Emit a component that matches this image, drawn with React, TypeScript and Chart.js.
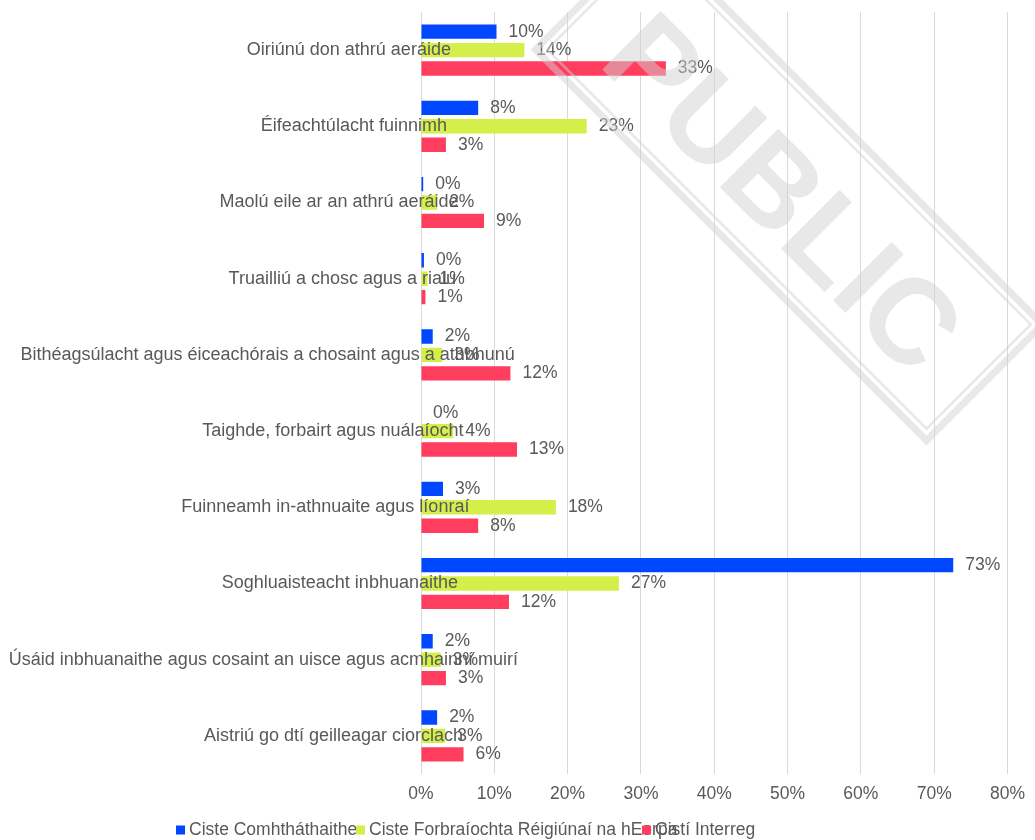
import React, { useEffect, useRef } from "react";
import { Chart, registerables } from "chart.js";

Chart.register(...registerables);

const categories = [
  "Oiriúnú don athrú aeráide",
  "Éifeachtúlacht fuinnimh",
  "Maolú eile ar an athrú aeráide",
  "Truailliú a chosc agus a rialú",
  "Bithéagsúlacht agus éiceachórais a chosaint agus a athbhunú",
  "Taighde, forbairt agus nuálaíocht",
  "Fuinneamh in-athnuaite agus líonraí",
  "Soghluaisteacht inbhuanaithe",
  "Úsáid inbhuanaithe agus cosaint an uisce agus acmhainní muirí",
  "Aistriú go dtí geilleagar ciorclach",
];

const seriesNames = [
  "Ciste Comhtháthaithe",
  "Ciste Forbraíochta Réigiúnaí na hEorpa",
  "Cistí Interreg",
];

const cohesionFund = [10.3, 7.8, 0.3, 0.4, 1.6, 0, 3.0, 72.6, 1.6, 2.2];
const erdf = [14.1, 22.6, 2.2, 0.9, 2.9, 4.4, 18.4, 27.0, 2.7, 3.3];
const interreg = [33.4, 3.4, 8.6, 0.6, 12.2, 13.1, 7.8, 12.0, 3.4, 5.8];

const xTickLabels = ["0%", "10%", "20%", "30%", "40%", "50%", "60%", "70%", "80%"];

const colors = ["#0047FF", "#D4EF4A", "#FF3D5E"];

const FONT = '"Liberation Sans", Arial, sans-serif';
const TEXT = "#595959";

const labelsPlugin = {
  id: "customLabels",
  afterDatasetsDraw(chart: any) {
    const ctx = chart.ctx;
    ctx.save();
    ctx.fillStyle = TEXT;
    ctx.textBaseline = "middle";
    ctx.textAlign = "left";
    ctx.font = `17.5px ${FONT}`;
    chart.data.datasets.forEach((ds: any, di: number) => {
      const meta = chart.getDatasetMeta(di);
      meta.data.forEach((bar: any, i: number) => {
        const v = ds.data[i];
        ctx.fillText(Math.round(v) + "%", bar.x + 12, bar.y);
      });
    });
    ctx.font = `18px ${FONT}`;
    const yScale = chart.scales.y;
    categories.forEach((c, i) => {
      const w = ctx.measureText(c).width;
      ctx.fillText(c, 406 - 0.78 * w, yScale.getPixelForValue(i));
    });
    ctx.restore();
  },
};

const legendPlugin = {
  id: "customLegend",
  afterDraw(chart: any) {
    const ctx = chart.ctx;
    ctx.save();
    ctx.font = `17.5px ${FONT}`;
    ctx.textBaseline = "middle";
    ctx.textAlign = "left";
    const y = 830;
    let x = 176;
    seriesNames.forEach((name, i) => {
      ctx.fillStyle = colors[i];
      ctx.fillRect(x, y - 4.5, 9, 9);
      ctx.fillStyle = TEXT;
      ctx.fillText(name, x + 13, y);
      const w = ctx.measureText(name).width;
      x = x + 0.757 * w + 52.6;
    });
    ctx.restore();
  },
};

const watermarkPlugin = {
  id: "watermark",
  afterDraw(chart: any) {
    const ctx = chart.ctx;
    ctx.save();
    ctx.translate(789, 187);
    ctx.rotate(Math.PI / 4);
    const col = "rgba(210,210,210,0.5)";
    ctx.fillStyle = col;
    const L = -280;
    const R = 280;
    const T = -85.5;
    const B = 85.5;
    ctx.beginPath();
    ctx.rect(L, T, R - L, B - T);
    ctx.rect(L + 7, T + 7, R - L - 14, B - T - 14);
    ctx.fill("evenodd");
    ctx.beginPath();
    ctx.rect(L + 10.5, T + 10.5, R - L - 21, B - T - 21);
    ctx.rect(L + 13, T + 13, R - L - 26, B - T - 26);
    ctx.fill("evenodd");
    const fs = 120;
    ctx.font = `bold ${fs}px ${FONT}`;
    ctx.textAlign = "center";
    ctx.textBaseline = "alphabetic";
    ctx.fillText("PUBLIC", 0, (0.716 * fs) / 2 + 6);
    ctx.restore();
  },
};

export default function App() {
  const ref = useRef<HTMLCanvasElement>(null);
  useEffect(() => {
    const chart = new Chart(ref.current as HTMLCanvasElement, {
      type: "bar",
      data: {
        labels: categories,
        datasets: [cohesionFund, erdf, interreg].map((d, i) => ({
          label: seriesNames[i],
          data: d,
          backgroundColor: colors[i],
          borderWidth: 0,
          categoryPercentage: 0.725,
          barPercentage: 0.78,
        })),
      },
      options: {
        indexAxis: "y",
        animation: false,
        responsive: false,
        maintainAspectRatio: false,
        layout: { padding: { left: 421, right: 27, top: 12, bottom: 25 } },
        plugins: {
          legend: { display: false },
          tooltip: { enabled: false },
        },
        scales: {
          x: {
            min: 0,
            max: 80,
            ticks: {
              stepSize: 10,
              color: TEXT,
              font: { size: 17.5, family: FONT },
              padding: 10,
              callback: (_v: any, i: number) => xTickLabels[i],
            },
            grid: { color: "#d9d9d9", drawTicks: false, lineWidth: 1 },
            border: { display: false },
          },
          y: { display: false },
        },
      },
      plugins: [labelsPlugin, legendPlugin, watermarkPlugin],
    } as any);
    return () => chart.destroy();
  }, []);
  return (
    <div style={{ position: "absolute", left: 0, top: 0, width: 1035, height: 840, background: "#fff" }}>
      <canvas ref={ref} width={1035} height={840} style={{ display: "block" }} />
    </div>
  );
}
